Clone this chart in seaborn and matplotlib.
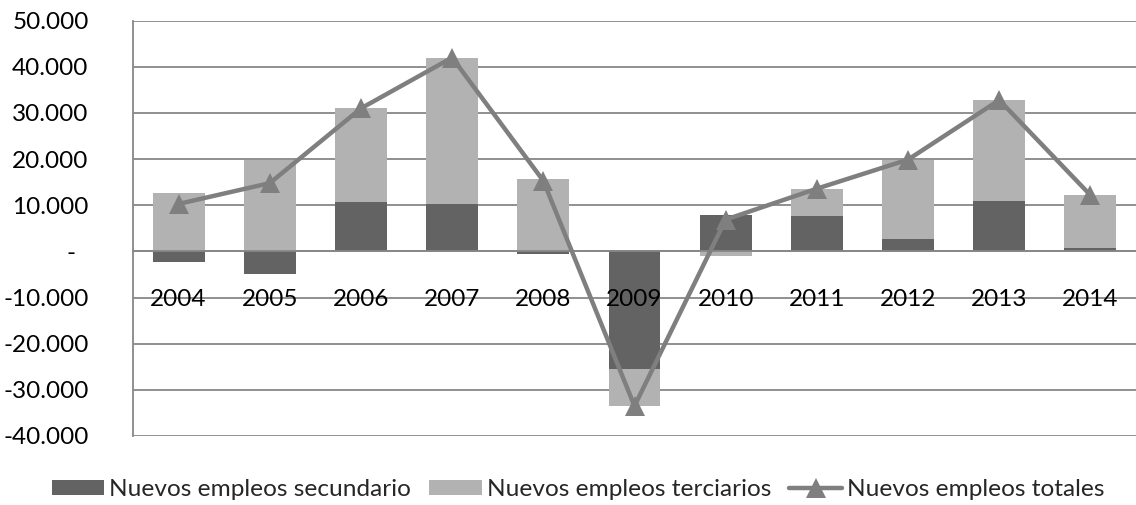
import numpy as np
import pandas as pd
import matplotlib
matplotlib.use("Agg")
import matplotlib.pyplot as plt
import seaborn as sns
from matplotlib.patches import Patch
from matplotlib.lines import Line2D
from matplotlib.ticker import FuncFormatter

years = ["2004", "2005", "2006", "2007", "2008", "2009", "2010", "2011", "2012", "2013", "2014"]
secundario = [-2300, -5000, 10700, 10200, -500, -25400, 7800, 7600, 2700, 10900, 700]
terciarios = [12600, 19800, 20300, 31800, 15800, -8100, -1100, 6000, 17200, 21900, 11500]
totales = [10300, 14800, 31000, 42000, 15300, -33500, 6900, 13600, 19900, 32800, 12200]

c_sec = "#636363"
c_ter = "#b2b2b2"
c_tot = "#7f7f7f"
c_grid = "#878787"

sns.set_theme(style="white")
plt.rcParams["font.family"] = ["Lato", "DejaVu Sans"]

df = pd.DataFrame({"year": years, "sec": secundario, "ter": terciarios, "tot": totales})
# terciario stacks on top of secundario when both have the same sign
df["ter_bottom"] = np.where(np.sign(df["sec"]) == np.sign(df["ter"]), df["sec"], 0)

fig = plt.figure(figsize=(11.36, 5.05), dpi=100)
ax = fig.add_axes([133 / 1136, 1 - 436 / 505, 1 - 133 / 1136, (436 - 20.7) / 505])

# gridlines drawn by hand so the tick labels can sit above the bars
yticks = np.arange(-40000, 50001, 10000)
for yv in yticks:
    ax.axhline(yv, color=c_grid, linewidth=1.3, zorder=0.5)

sns.barplot(data=df, x="year", y="sec", color=c_sec, width=0.57, saturation=1,
            ax=ax, zorder=1, linewidth=0)
sns.barplot(data=df, x="year", y="ter", color=c_ter, width=0.57, saturation=1,
            ax=ax, zorder=1, linewidth=0, bottom=df["ter_bottom"].to_numpy())
sns.lineplot(x=np.arange(len(years)), y=df["tot"], color=c_tot, linewidth=3.2,
             marker="^", markersize=15, markeredgewidth=0, ax=ax, zorder=3)

ax.set_ylim(-40000, 50000)
ax.set_xlim(-0.5, len(years) - 0.5)
ax.set_yticks(yticks)
ax.yaxis.set_major_formatter(FuncFormatter(
    lambda v, p: "-  " if v == 0 else f"{v:,.0f}".replace(",", ".")))
ax.grid(False)
ax.set_axisbelow(False)

for s in ["top", "right"]:
    ax.spines[s].set_visible(False)
ax.spines["left"].set_color(c_grid)
ax.spines["left"].set_linewidth(1.3)
ax.spines["bottom"].set_position(("data", 0))
ax.spines["bottom"].set_color(c_grid)
ax.spines["bottom"].set_linewidth(1.3)

ax.tick_params(axis="y", length=0, pad=32, labelsize=17.5, labelcolor="black")
ax.tick_params(axis="x", length=0, pad=27, labelsize=17.5, labelcolor="black")
ax.set_xlabel("")
ax.set_ylabel("")

handles = [
    Patch(facecolor=c_sec, edgecolor="none"),
    Patch(facecolor=c_ter, edgecolor="none"),
    Line2D([0], [0], color=c_tot, linewidth=3.2, marker="^", markersize=15, markeredgewidth=0),
]
labels = ["Nuevos empleos secundario", "Nuevos empleos terciarios", "Nuevos empleos totales"]
fig.legend(handles, labels, loc="center", bbox_to_anchor=(578 / 1136, 1 - 490 / 505),
           ncol=3, frameon=False, fontsize=17.6, handlelength=2.15, handleheight=0.58,
           handletextpad=0.2, columnspacing=0.75, borderpad=0)

fig.savefig("out.png", dpi=100)
